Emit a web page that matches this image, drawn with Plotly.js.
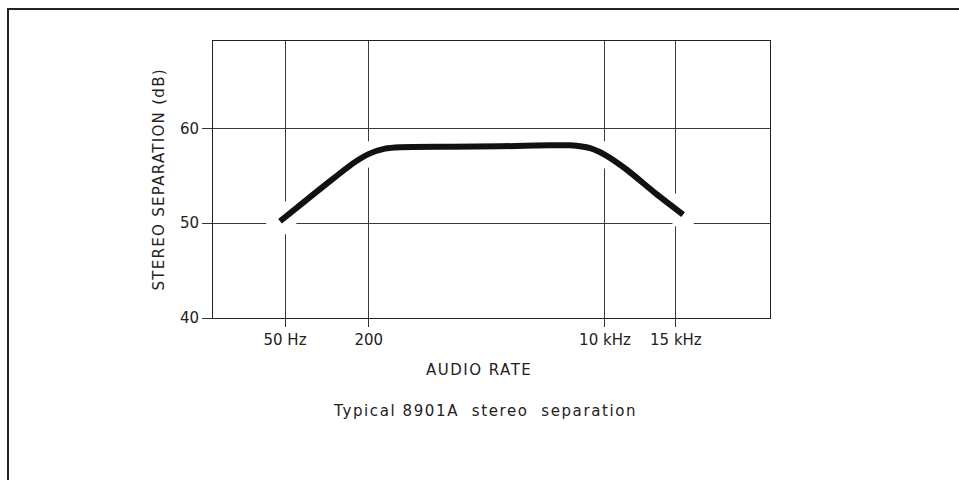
<!DOCTYPE html>
<html>
<head>
<meta charset="utf-8">
<script src="https://cdn.plot.ly/plotly-3.0.1.min.js"></script>
<style>
  html, body { margin: 0; padding: 0; background: #fff; }
  #wrap { position: relative; width: 959px; height: 480px; overflow: hidden; }
  #frame { position: absolute; left: 7px; top: 8px; width: 960px; height: 480px;
           border-left: 2px solid #222; border-top: 2px solid #222; pointer-events: none; }
  #chart { position: absolute; left: 0; top: 0; width: 959px; height: 480px; }
</style>
</head>
<body>
<div id="wrap">
  <div id="chart"></div>
  <div id="frame"></div>
</div>
<script>
// Tick positions on the chart's (hand-drawn, log-like) frequency scale
const tickPos = [1.699, 2.301, 4.0, 4.51];
const tickLabels = ['50 Hz', '200', '10 kHz', '15 kHz'];
const yTicks = [40, 50, 60];

// Curve (x in the same scale units as tickPos)
const curveX  = [1.663, 1.807, 2.02, 2.188, 2.303, 2.418, 2.526, 2.9, 3.246, 3.6, 3.749, 3.893, 4.0, 4.16, 4.35, 4.562];
const curveDb = [50.2, 51.9, 54.4, 56.3, 57.3, 57.85, 58.0, 58.05, 58.1, 58.2, 58.2, 57.9, 57.2, 55.6, 53.3, 50.9];

const endX  = [curveX[0], curveX[curveX.length - 1]];
const endDb = [curveDb[0], curveDb[curveDb.length - 1]];

const font = 'DejaVu Sans, Liberation Sans, Arial, sans-serif';

const traces = [
  { // white halo that interrupts grid lines where the curve crosses them
    x: curveX, y: curveDb, mode: 'lines', type: 'scatter',
    line: { color: '#ffffff', width: 24, shape: 'spline', smoothing: 0.6 },
    hoverinfo: 'skip', showlegend: false
  },
  {
    x: endX, y: endDb, mode: 'markers', type: 'scatter',
    marker: { color: '#ffffff', size: 28, line: { width: 0 } },
    hoverinfo: 'skip', showlegend: false
  },
  {
    x: curveX, y: curveDb, mode: 'lines', type: 'scatter',
    line: { color: '#111111', width: 6, shape: 'spline', smoothing: 0.6 },
    showlegend: false
  }
];

const layout = {
  width: 959, height: 480,
  margin: { l: 213, r: 189, t: 41, b: 162, pad: 0 },
  paper_bgcolor: '#ffffff', plot_bgcolor: '#ffffff',
  showlegend: false,
  font: { family: font, color: '#222' },
  xaxis: {
    type: 'linear', range: [1.181, 5.187],
    tickmode: 'array', tickvals: tickPos, ticktext: tickLabels,
    showgrid: true, gridcolor: '#3a3a3a', gridwidth: 1,
    zeroline: false, showline: true, mirror: true, linecolor: '#222', linewidth: 1,
    ticks: 'outside', ticklen: 8, tickcolor: '#333', tickwidth: 1,
    tickfont: { family: font, size: 15, color: '#222' },
    fixedrange: true
  },
  yaxis: {
    range: [40, 69.2],
    tickmode: 'array', tickvals: yTicks, ticktext: yTicks.map(String),
    showgrid: true, gridcolor: '#3a3a3a', gridwidth: 1,
    zeroline: false, showline: true, mirror: true, linecolor: '#222', linewidth: 1,
    ticks: 'outside', ticklen: 10, tickcolor: '#333', tickwidth: 1,
    tickfont: { family: font, size: 15, color: '#222' },
    fixedrange: true
  },
  annotations: [
    { text: '<span style="letter-spacing:1.5px">AUDIO RATE</span>', xref: 'paper', yref: 'paper',
      x: (479 - 213) / 557, y: -(370 - 318) / 277, xanchor: 'center', yanchor: 'middle',
      showarrow: false, font: { family: font, size: 15, color: '#222' } },
    { text: '<span style="letter-spacing:1.3px">STEREO SEPARATION (dB)</span>', xref: 'paper', yref: 'paper',
      x: -(213 - 158) / 557, y: 0.5, xanchor: 'center', yanchor: 'middle', textangle: -90,
      showarrow: false, font: { family: font, size: 15, color: '#222' } },
    { text: '<span style="letter-spacing:1.6px">Typical 8901A  stereo  separation</span>',
      xref: 'paper', yref: 'paper',
      x: (485 - 213) / 557, y: -(411 - 318) / 277, xanchor: 'center', yanchor: 'middle',
      showarrow: false, font: { family: font, size: 15, color: '#222' } }
  ]
};

Plotly.newPlot('chart', traces, layout, { displayModeBar: false, staticPlot: true });
</script>
</body>
</html>
